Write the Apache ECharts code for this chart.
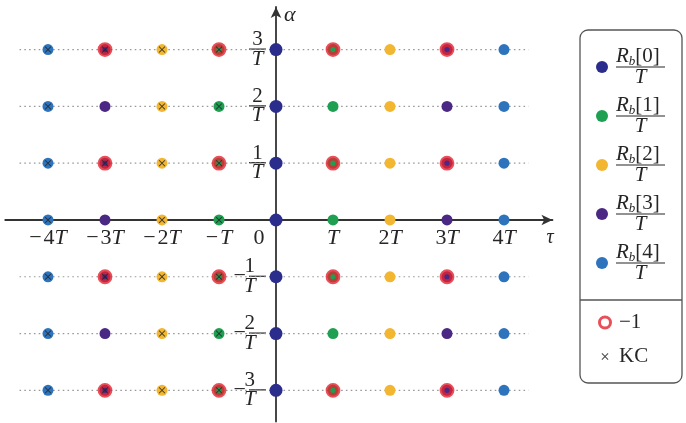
<!DOCTYPE html>
<html>
<head>
<meta charset="utf-8">
<script src="https://cdn.jsdelivr.net/npm/echarts@6/dist/echarts.min.js"></script>
<style>
  html, body { margin: 0; padding: 0; background: #fff; }
  #chart { width: 686px; height: 423px; }
</style>
</head>
<body>
<div id="chart"></div>
<script>
// Lag axis (tau, in multiples of T) and cyclic frequency axis (alpha, in multiples of 1/T)
const tauTicks = [-4, -3, -2, -1, 0, 1, 2, 3, 4];
const alphaTicks = [-3, -2, -1, 1, 2, 3];
const alphaRows = [-3, -2, -1, 0, 1, 2, 3];

// Each autocorrelation term R_b[k]/T sits at tau = ±kT on every alpha row
const seriesNames = ['R_b[0]/T', 'R_b[1]/T', 'R_b[2]/T', 'R_b[3]/T', 'R_b[4]/T'];
const seriesTau = [[0], [-1, 1], [-2, 2], [-3, 3], [-4, 4]];

// Points carrying a factor of −1
const minusOnePoints = [
  [-3, 3], [-1, 3], [1, 3], [3, 3],
  [-3, 1], [-1, 1], [1, 1], [3, 1],
  [-3, -1], [-1, -1], [1, -1], [3, -1],
  [-3, -3], [-1, -3], [1, -3], [3, -3]
];

// Points marked as complex conjugate (KC): tau column and the alpha rows it applies to
const kcTau = [-4, -3, -2, -1];
const kcAlpha = [
  [-3, -2, -1, 0, 1, 2, 3],
  [-3, -1, 1, 3],
  [-3, -2, -1, 0, 1, 2, 3],
  [-3, -2, -1, 0, 1, 2, 3]
];

// Dotted guide lines run across each nonzero alpha row
const guideStart = -4.5;
const guideEnd = 4.43;

const colors = ['#2b2d8c', '#1e9f52', '#f2b631', '#4a2883', '#2d74bd'];
const ringRed = '#e3232f';
const inkColor = '#262626';
const serif = '"Liberation Serif", "DejaVu Serif", serif';
const crossPath = 'path://M1,0 L5,4 L9,0 L10,1 L6,5 L10,9 L9,10 L5,6 L1,10 L0,9 L4,5 L0,1 Z';
// Same cross inside a wider frame so the legend icon stays small
const crossIconPath = 'path://M0,0 L0.01,0 L0,0.01 Z M16,16 L15.99,16 L16,15.99 Z ' +
  'M4,3 L8,7 L12,3 L13,4 L9,8 L13,12 L12,13 L8,9 L4,13 L3,12 L7,8 L3,4 Z';

// Plot area geometry (pixels) and axis ranges
const gridLeft = 5.25, gridRight = 133.55, gridTop = 7.0, gridBottom = 1.4;
const xMin = -4.75, xMax = 4.85, yMin = -3.55, yMax = 3.75;
const chartW = 686, chartH = 423;
const plotW = chartW - gridLeft - gridRight;
const plotH = chartH - gridTop - gridBottom;
// Shift each axis from the grid edge onto the other axis's zero
const xAxisOffset = -(plotH * (0 - yMin) / (yMax - yMin));
const yAxisOffset = -(plotW * (0 - xMin) / (xMax - xMin));

const chart = echarts.init(document.getElementById('chart'), null, { renderer: 'canvas' });

const series = [];

alphaTicks.forEach(a => {
  series.push({
    type: 'line',
    silent: true,
    symbol: 'none',
    z: 1,
    lineStyle: { color: '#9a9a9a', width: 1.2, type: [1.6, 3.2] },
    data: [[guideStart, a], [guideEnd, a]]
  });
});

seriesNames.forEach((name, k) => {
  const data = [];
  seriesTau[k].forEach(t => alphaRows.forEach(a => data.push([t, a])));
  series.push({
    name: name,
    type: 'scatter',
    z: 3,
    symbol: 'circle',
    symbolSize: k === 0 ? 13 : 11,
    itemStyle: { color: colors[k], opacity: 1 },
    data: data
  });
});

series.push({
  name: '−1',
  type: 'scatter',
  z: 4,
  symbol: 'circle',
  symbolSize: 10,
  itemStyle: { color: 'rgba(0,0,0,0)', borderColor: ringRed, borderWidth: 4.8 },
  data: minusOnePoints
});

const kcData = [];
kcTau.forEach((t, i) => kcAlpha[i].forEach(a => kcData.push([t, a])));
series.push({
  name: 'KC',
  type: 'scatter',
  z: 5,
  symbol: crossPath,
  symbolSize: 6.5,
  itemStyle: { color: inkColor, opacity: 0.85 },
  data: kcData
});

const fracRich = {
  n: { fontFamily: serif, fontSize: 21, width: 17, align: 'center', lineHeight: 16, color: inkColor },
  b: { width: 17, height: 1.2, lineHeight: 3, fontSize: 1, backgroundColor: inkColor },
  m: { fontFamily: serif, fontSize: 22, lineHeight: 3, padding: [0, 3, 0, 0], color: inkColor },
  d: { fontFamily: serif, fontSize: 21, fontStyle: 'italic', width: 17, align: 'center', lineHeight: 17, color: inkColor }
};

const option = {
  animation: false,
  backgroundColor: '#fff',
  grid: {
    left: gridLeft, right: gridRight, top: gridTop, bottom: gridBottom,
    containLabel: false, outerBoundsMode: 'none'
  },
  xAxis: {
    type: 'value',
    min: xMin,
    max: xMax,
    position: 'bottom',
    offset: xAxisOffset,
    name: 'τ',
    nameLocation: 'end',
    nameGap: -6,
    nameTextStyle: { fontFamily: serif, fontStyle: 'italic', fontSize: 20, color: inkColor, verticalAlign: 'top', padding: [8, 0, 0, 0] },
    axisLine: { show: true, onZero: false, symbol: ['none', 'arrow'], symbolSize: [8, 11], lineStyle: { color: '#333', width: 1.8 } },
    axisTick: { show: false },
    splitLine: { show: false },
    axisLabel: {
      customValues: tauTicks,
      margin: 7,
      fontFamily: serif,
      fontSize: 22,
      color: inkColor,
      formatter: v => {
        if (v === 0) return '{z|0}';
        const sign = v < 0 ? '{m|−}' : '';
        const mag = Math.abs(v) === 1 ? '' : '{n|' + Math.abs(v) + '}';
        return sign + mag + '{t|T}';
      },
      rich: {
        z: { fontFamily: serif, fontSize: 22, color: inkColor, padding: [0, 34, 0, 0] },
        m: { fontFamily: serif, fontSize: 22, color: inkColor, padding: [0, 2, 0, 0] },
        n: { fontFamily: serif, fontSize: 22, color: inkColor },
        t: { fontFamily: serif, fontSize: 22, fontStyle: 'italic', color: inkColor }
      }
    }
  },
  yAxis: {
    type: 'value',
    min: yMin,
    max: yMax,
    position: 'left',
    offset: yAxisOffset,
    name: 'α',
    nameLocation: 'end',
    nameGap: -19,
    nameTextStyle: { fontFamily: serif, fontStyle: 'italic', fontSize: 22, color: inkColor, align: 'left', padding: [0, 0, 0, 8] },
    axisLine: { show: true, onZero: false, symbol: ['none', 'arrow'], symbolSize: [8, 11], lineStyle: { color: '#333', width: 1.8 } },
    axisTick: { show: false },
    splitLine: { show: false },
    axisLabel: {
      customValues: alphaTicks,
      margin: 10,
      fontFamily: serif,
      fontSize: 21,
      color: inkColor,
      formatter: v => {
        if (v < 0) return '{n|' + (-v) + '}\n{m|−}{b| }\n{d|T}';
        return '{n|' + v + '}\n{b| }\n{d|T}';
      },
      rich: fracRich
    }
  },
  legend: [
    {
      data: seriesNames,
      orient: 'vertical',
      left: 591,
      top: 40,
      itemGap: 6,
      itemWidth: 12,
      itemHeight: 12,
      selectedMode: false,
      formatter: name => {
        const k = seriesNames.indexOf(name);
        return '{r|R}{s|b}{k|[' + k + ']}\n{b| }\n{t|T}';
      },
      textStyle: {
        fontFamily: serif,
        fontSize: 21,
        color: inkColor,
        padding: [0, 0, 0, 3],
        rich: {
          r: { fontFamily: serif, fontSize: 21, fontStyle: 'italic', lineHeight: 18, color: inkColor },
          s: { fontFamily: serif, fontSize: 13, fontStyle: 'italic', lineHeight: 18, padding: [10, 0, 0, 0], color: inkColor },
          k: { fontFamily: serif, fontSize: 21, lineHeight: 18, color: inkColor },
          b: { width: 49, height: 1.2, lineHeight: 3, fontSize: 1, backgroundColor: inkColor },
          t: { fontFamily: serif, fontSize: 21, fontStyle: 'italic', width: 49, align: 'center', lineHeight: 18, color: inkColor }
        }
      }
    },
    {
      data: [
        { name: '−1', icon: 'circle', itemStyle: { color: '#fff', borderColor: ringRed, borderWidth: 3 } },
        { name: 'KC', icon: crossIconPath, itemStyle: { color: inkColor } }
      ],
      orient: 'vertical',
      left: 593,
      top: 307,
      itemGap: 13,
      itemWidth: 12,
      itemHeight: 11,
      selectedMode: false,
      textStyle: { fontFamily: serif, fontSize: 21, color: inkColor, padding: [0, 0, 0, 3] }
    }
  ],
  graphic: [
    {
      type: 'rect',
      silent: true,
      shape: { x: 580, y: 30, width: 102, height: 353, r: 8 },
      style: { fill: 'none', stroke: '#555', lineWidth: 1.3 }
    },
    {
      type: 'line',
      silent: true,
      shape: { x1: 580, y1: 300, x2: 682, y2: 300 },
      style: { stroke: '#555', lineWidth: 1.3 }
    }
  ],
  series: series
};

chart.setOption(option);
</script>
</body>
</html>
